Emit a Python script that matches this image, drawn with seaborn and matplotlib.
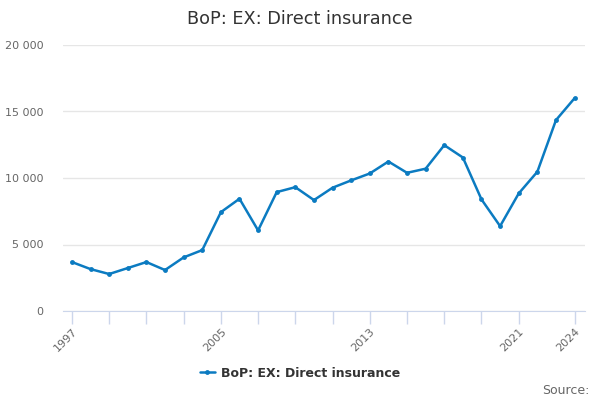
import pandas as pd
import seaborn as sns
from matplotlib import pyplot as plt
from matplotlib.ticker import FuncFormatter

# Data
years = list(range(1997, 2025))
values = [3680, 3150, 2780, 3230, 3680, 3080, 4030, 4580, 7430, 8440,
          6060, 8940, 9310, 8340, 9270, 9820, 10340, 11240, 10390, 10700,
          12470, 11540, 8390, 6380, 8840, 10470, 14350, 16000]
series_name = 'BoP: EX: Direct insurance'
tick_years = list(range(1997, 2022, 2)) + [2024]
label_years = [1997, 2005, 2013, 2021, 2024]

df = pd.DataFrame({'year': years, 'value': values, 'series': series_name})

sns.set_style('white')
plt.rcParams['font.family'] = ['DejaVu Sans']

fig = plt.figure(figsize=(6, 4), dpi=100)
ax = fig.add_axes([0.105, 0.2225, 0.87, 0.665])

line_col = '#0b7bc1'
sns.lineplot(x='year', y='value', hue='series', data=df, ax=ax,
             palette=[line_col], marker='o', markersize=3.5,
             markeredgewidth=0, linewidth=1.8)

ax.set_xlim(1996.52, 2024.56)
ax.set_ylim(0, 20000)
ax.set_yticks([0, 5000, 10000, 15000, 20000])
ax.yaxis.set_major_formatter(FuncFormatter(lambda v, p: f'{int(v):,}'.replace(',', ' ')))
ax.grid(axis='y', color='#e6e6e6', linewidth=1)
ax.set_axisbelow(True)

ax.set_xticks(tick_years)
ax.set_xticklabels([str(y) if y in label_years else '' for y in tick_years],
                   rotation=45, ha='right', rotation_mode='anchor')
ax.tick_params(axis='x', bottom=True, direction='out', length=9, width=1,
               color='#ccd6eb', labelsize=8, labelcolor='#666666', pad=2)
ax.tick_params(axis='y', left=False, length=0, labelsize=8, labelcolor='#666666', pad=14)

for s in ['top', 'right', 'left']:
    ax.spines[s].set_visible(False)
ax.spines['bottom'].set_color('#ccd6eb')
ax.set_xlabel('')
ax.set_ylabel('')

fig.suptitle(series_name, x=0.5, y=0.975, fontsize=12.7, color='#333333')

handles, labels = ax.get_legend_handles_labels()
ax.legend_.remove()
fig.legend(handles, labels, loc='center', bbox_to_anchor=(0.5, 0.067), frameon=False,
           prop={'size': 9, 'weight': 'bold'}, labelcolor='#333333',
           handlelength=1.2, handletextpad=0.5)

fig.text(0.983, 0.025, 'Source:', ha='right', va='center', fontsize=9, color='#666666')

fig.savefig('out.png', dpi=100)
